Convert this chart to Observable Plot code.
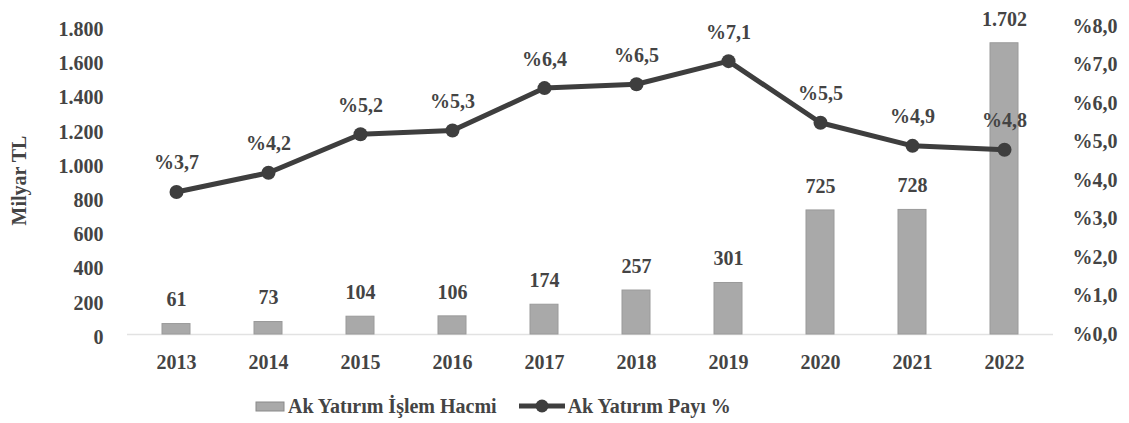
<!DOCTYPE html>
<html>
<head>
<meta charset="utf-8">
<script src="https://cdn.jsdelivr.net/npm/d3@7"></script>
<script src="https://cdn.jsdelivr.net/npm/@observablehq/plot@0.6"></script>
<style>
  body { margin: 0; background: #fff; width: 1129px; height: 423px; overflow: hidden; position: relative;
         font-family: "Liberation Serif", "Times New Roman", serif; }
  #chart { position: absolute; left: 0; top: 0; }
  #chart svg, #chart svg text { font-family: "Liberation Serif", "Times New Roman", serif !important; }
  #legend { position: absolute; left: 255px; top: 392px; height: 28px; display: flex; align-items: center;
            font-weight: bold; font-size: 20px; color: #444; }
  #legend .item { display: flex; align-items: center; }
  #legend svg { display: block; }
</style>
</head>
<body>
<div id="chart"></div>
<div id="legend"></div>
<script>
const years = ["2013","2014","2015","2016","2017","2018","2019","2020","2021","2022"];
const volume = [61, 73, 104, 106, 174, 257, 301, 725, 728, 1702];
const share = [3.7, 4.2, 5.2, 5.3, 6.4, 6.5, 7.1, 5.5, 4.9, 4.8];
const leftTicks = [0, 200, 400, 600, 800, 1000, 1200, 1400, 1600, 1800];
const rightTicks = [0, 1, 2, 3, 4, 5, 6, 7, 8];
const seriesNames = ["Ak Yatırım İşlem Hacmi", "Ak Yatırım Payı %"];

const yMax = 1800, pctMax = 8;
const toLeft = p => p * yMax / pctMax;
const trLocale = d3.formatLocale({decimal: ",", thousands: ".", grouping: [3], currency: ["", ""]});
const fmtInt = trLocale.format(",");
const fmtPct = p => "%" + trLocale.format(".1f")(p);

const data = years.map((y, i) => ({year: y, volume: volume[i], share: share[i], shareY: toLeft(share[i])}));

const ink = "#444";
const chart = Plot.plot({
  width: 1129,
  height: 390,
  marginLeft: 127,
  marginRight: 76,
  marginTop: 26,
  marginBottom: 56,
  style: {fontSize: "20px", fontWeight: "bold", color: ink, background: "#fff"},
  x: {domain: years, paddingInner: 0.7, paddingOuter: 0.35, label: null},
  y: {domain: [0, yMax], label: null},
  marks: [
    Plot.ruleY([0], {stroke: "#e2e2e2", strokeWidth: 1.5}),
    Plot.barY(data, {x: "year", y: "volume", fill: "#a9a9a9", stroke: "#9a9a9a", strokeWidth: 1}),
    Plot.text(data, {x: "year", y: "volume", text: d => fmtInt(d.volume), dy: -24, fill: ink}),
    Plot.line(data, {x: "year", y: "shareY", stroke: "#3e3e3e", strokeWidth: 5}),
    Plot.dot(data, {x: "year", y: "shareY", r: 7, fill: "#3e3e3e"}),
    Plot.text(data, {x: "year", y: "shareY", text: d => fmtPct(d.share), dy: -29, fill: ink}),
    Plot.axisX({tickSize: 0, tickPadding: 20, label: null}),
    Plot.axisY({anchor: "left", ticks: leftTicks, tickFormat: fmtInt, tickSize: 0, tickPadding: 24, dy: 3,
                label: "Milyar TL", labelAnchor: "center", labelOffset: 116, labelArrow: "none"}),
    Plot.axisY({anchor: "right", ticks: rightTicks.map(toLeft), tickFormat: v => fmtPct(v * pctMax / yMax),
                tickSize: 0, tickPadding: 19, label: null})
  ]
});
document.getElementById("chart").appendChild(chart);

// legend
const legend = document.getElementById("legend");
function item(swatchSvg, text, gap) {
  const d = document.createElement("div");
  d.className = "item";
  d.style.marginRight = gap + "px";
  d.innerHTML = swatchSvg + `<span style="margin-left:3px">${text}</span>`;
  legend.appendChild(d);
}
item(`<svg width="30" height="14"><rect x="1" y="3" width="28" height="9" fill="#a9a9a9" stroke="#8a8a8a"/></svg>`, seriesNames[0], 22);
item(`<svg width="46" height="14"><line x1="0" y1="7" x2="46" y2="7" stroke="#3e3e3e" stroke-width="5"/><circle cx="23" cy="7" r="6.5" fill="#3e3e3e"/></svg>`, seriesNames[1], 0);
</script>
</body>
</html>
